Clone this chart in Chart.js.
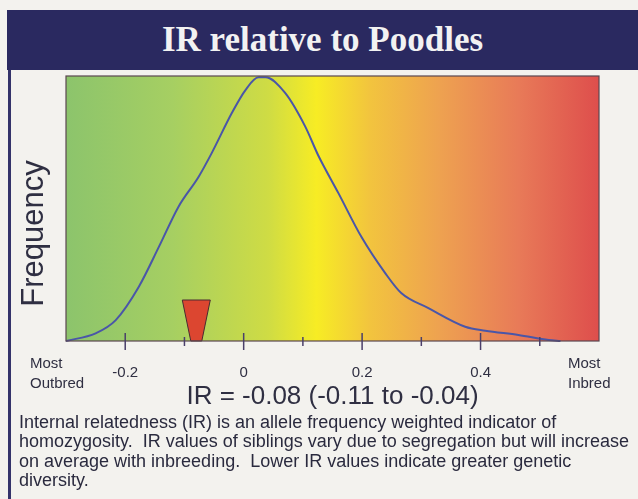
<!DOCTYPE html>
<html>
<head>
<meta charset="utf-8">
<script src="https://cdn.jsdelivr.net/npm/chart.js@4/dist/chart.umd.min.js"></script>
<style>
    body { margin: 0; background: #f3f2ee; }
    #page { position: relative; width: 638px; height: 499px; overflow: hidden; background: #f3f2ee; }
    #title-bar {
        position: absolute; left: 7px; top: 10px; width: 631px; height: 60px;
        background: #2a2960; color: #f2f2f2; text-align: center;
        font: bold 35px/60px "Liberation Serif", serif;
    }
    #left-rule { position: absolute; left: 8px; top: 70px; width: 3px; height: 429px; background: #34336a; }
    #chart-box { position: absolute; left: 0; top: 70px; width: 638px; height: 344px; }
    #note {
        position: absolute; left: 19px; top: 413px; white-space: pre;
        font: 18px/19.3px "Liberation Sans", Arial, sans-serif; color: #2a2a3e;
    }
</style>
</head>
<body>
<div id="page">
    <div id="title-bar">IR relative to Poodles</div>
    <div id="left-rule"></div>
    <div id="chart-box"><canvas id="ir-chart"></canvas></div>
    <div id="note">Internal relatedness (IR) is an allele frequency weighted indicator of
homozygosity.  IR values of siblings vary due to segregation but will increase
on average with inbreeding.  Lower IR values indicate greater genetic
diversity.</div>
</div>
<script>
// density curve (frequency scaled to the peak)
const irValues = [-0.30, -0.25, -0.216, -0.177, -0.143, -0.11, -0.076, -0.054, -0.02, 0.003, 0.025, 0.037,
    0.07, 0.104, 0.126, 0.16, 0.199, 0.239, 0.266, 0.312, 0.374, 0.408, 0.464, 0.515, 0.535];
const freqValues = [0, 0.029, 0.079, 0.205, 0.356, 0.507, 0.620, 0.709, 0.860, 0.947, 0.995, 0.995,
    0.936, 0.809, 0.70, 0.558, 0.392, 0.256, 0.181, 0.124, 0.054, 0.039, 0.023, 0.004, 0];

const irEstimate = -0.08;
const irLow = -0.11;
const irHigh = -0.04;

const xMin = -0.3, xMax = 0.6, xStep = 0.1;
const labelledTicks = [-0.2, 0, 0.2, 0.4];

const textColor = "#2f2f42";
const sans = "'Liberation Sans', Arial, sans-serif";

const fmt = v => v.toFixed(2);

const backdrop = {
    id: "backdrop",
    beforeDatasetsDraw(chart) {
        const {ctx, chartArea: a} = chart;
        const g = ctx.createLinearGradient(a.left, 0, a.right, 0);
        g.addColorStop(0, "#8cc46c");
        g.addColorStop(0.2, "#a6cf62");
        g.addColorStop(0.38, "#cfdc44");
        g.addColorStop(0.47, "#f7ec24");
        g.addColorStop(0.57, "#f2c43e");
        g.addColorStop(0.7, "#eea250");
        g.addColorStop(0.85, "#e87a58");
        g.addColorStop(1, "#de4e4c");
        ctx.save();
        ctx.fillStyle = g;
        ctx.fillRect(a.left, a.top, a.right - a.left, a.bottom - a.top);
        ctx.restore();
    }
};

const decorations = {
    id: "decorations",
    afterDatasetsDraw(chart) {
        const {ctx, chartArea: a, scales: {x}} = chart;
        ctx.save();

        // marker for the dog's IR
        const cx = x.getPixelForValue(irEstimate);
        ctx.beginPath();
        ctx.moveTo(cx - 14, a.bottom - 41);
        ctx.lineTo(cx + 14, a.bottom - 41);
        ctx.lineTo(cx + 5.5, a.bottom);
        ctx.lineTo(cx - 5.5, a.bottom);
        ctx.closePath();
        ctx.fillStyle = "#dc4630";
        ctx.fill();
        ctx.strokeStyle = "#4a2a30";
        ctx.lineWidth = 1;
        ctx.stroke();

        // frame
        ctx.strokeStyle = "#5a4650";
        ctx.lineWidth = 1.2;
        ctx.strokeRect(a.left, a.top, a.right - a.left, a.bottom - a.top);

        // tick marks crossing the axis
        ctx.strokeStyle = "#4a3f6a";
        ctx.lineWidth = 1.5;
        x.ticks.forEach(t => {
            const k = Math.round(t.value * 10);
            if (k <= -3 || k >= 6) return;
            const px = x.getPixelForValue(t.value);
            const major = k % 2 === 0;
            ctx.beginPath();
            ctx.moveTo(px, a.bottom - (major ? 8 : 4));
            ctx.lineTo(px, a.bottom + (major ? 9 : 5));
            ctx.stroke();
        });

        // axis side notes
        ctx.fillStyle = textColor;
        ctx.font = "15px " + sans;
        ctx.textBaseline = "alphabetic";
        ctx.textAlign = "left";
        ctx.fillText("Most", 30, a.bottom + 27);
        ctx.fillText("Outbred", 30, a.bottom + 47);
        ctx.fillText("Most", a.right - 31, a.bottom + 27);
        ctx.fillText("Inbred", a.right - 31, a.bottom + 47);

        // y title
        ctx.font = "31px " + sans;
        ctx.textAlign = "center";
        ctx.translate(43, (a.top + a.bottom) / 2 + 25);
        ctx.rotate(-Math.PI / 2);
        ctx.fillText("Frequency", 0, 0);
        ctx.restore();
    }
};

new Chart("ir-chart", {
    type: "line",
    data: {
        datasets: [{
            data: irValues.map((v, i) => ({x: v, y: freqValues[i]})),
            borderColor: "#4a56a8",
            borderWidth: 2,
            pointRadius: 0,
            tension: 0.4,
            cubicInterpolationMode: "monotone",
            fill: false,
            clip: false
        }]
    },
    options: {
        responsive: true,
        maintainAspectRatio: false,
        animation: false,
        layout: {padding: {left: 66, right: 39, top: 6, bottom: 0}},
        plugins: {legend: {display: false}, tooltip: {enabled: false}},
        scales: {
            x: {
                type: "linear",
                min: xMin,
                max: xMax,
                border: {display: false},
                grid: {display: false, drawTicks: false},
                ticks: {
                    stepSize: xStep,
                    autoSkip: false,
                    maxRotation: 0,
                    padding: 23,
                    color: textColor,
                    font: {family: sans, size: 15},
                    callback: v => labelledTicks.some(t => Math.abs(t - v) < 1e-6) ? String(Math.round(v * 10) / 10) : ""
                },
                title: {
                    display: true,
                    text: "IR = " + fmt(irEstimate) + " (" + fmt(irLow) + " to " + fmt(irHigh) + ")",
                    color: textColor,
                    font: {family: sans, size: 26},
                    padding: {top: 0, bottom: 2}
                },
                afterFit: s => { s.height = 73; }
            },
            y: {display: false, min: 0, max: 1}
        }
    },
    plugins: [backdrop, decorations]
});
</script>
</body>
</html>
